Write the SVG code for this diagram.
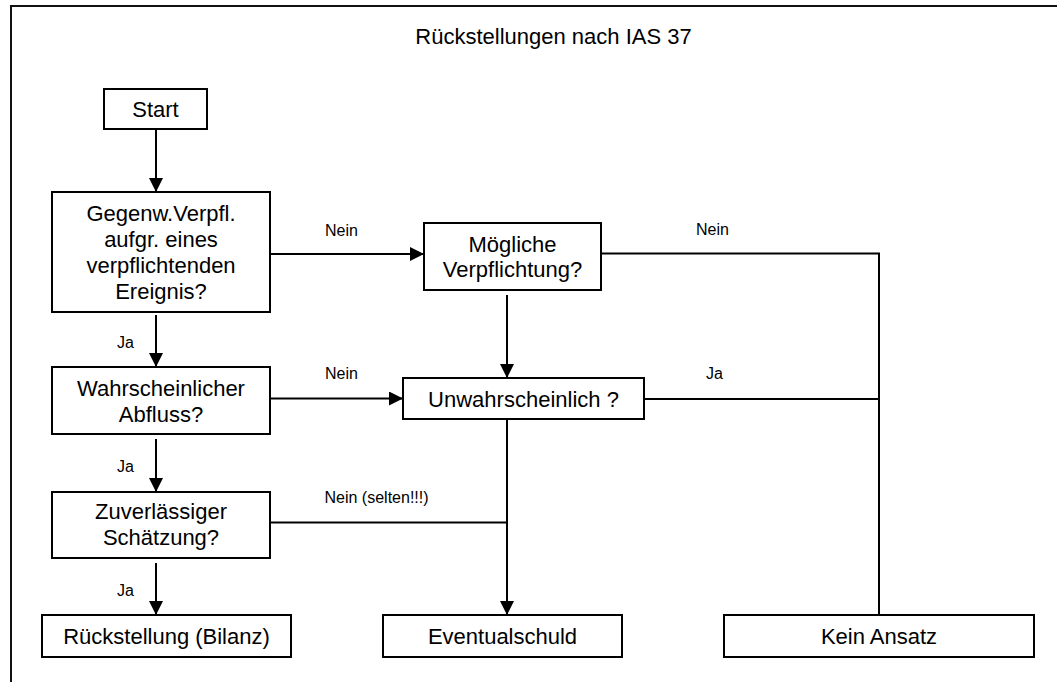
<svg xmlns="http://www.w3.org/2000/svg" width="1057" height="682" viewBox="0 0 1057 682">
<style>
.box{fill:#fff;stroke:#000;stroke-width:2}
.t{font-family:"Liberation Sans",Arial,sans-serif;font-size:22px;fill:#000;text-anchor:middle}
.l{font-family:"Liberation Sans",Arial,sans-serif;font-size:16px;fill:#000}
.c{fill:none;stroke:#000;stroke-width:2}
</style>
<defs>
<marker id="ah" markerUnits="userSpaceOnUse" markerWidth="14" markerHeight="14" refX="14" refY="7" orient="auto">
<path d="M0,0 L14,7 L0,14 z" fill="#000"/>
</marker>
</defs>
<rect width="1057" height="682" fill="#fff"/>
<rect x="11" y="6" width="1100" height="700" fill="none" stroke="#111" stroke-width="2"/>
<text id="title" class="t" x="553.5" y="44">Rückstellungen nach IAS 37</text>

<g id="connectors">
<line class="c" x1="156" y1="129" x2="156" y2="192" marker-end="url(#ah)"/>
<line class="c" x1="270" y1="254" x2="424" y2="254" marker-end="url(#ah)"/>
<polyline class="c" points="601,253.5 879,253.5 879,615"/>
<line class="c" x1="507" y1="295" x2="507" y2="378" marker-end="url(#ah)"/>
<line class="c" x1="156" y1="315" x2="156" y2="367" marker-end="url(#ah)"/>
<line class="c" x1="270" y1="398.5" x2="403" y2="398.5" marker-end="url(#ah)"/>
<line class="c" x1="620" y1="399" x2="879" y2="399"/>
<line class="c" x1="156" y1="439" x2="156" y2="492" marker-end="url(#ah)"/>
<line class="c" x1="507" y1="419" x2="507" y2="615" marker-end="url(#ah)"/>
<line class="c" x1="270" y1="522.5" x2="507" y2="522.5"/>
<line class="c" x1="156" y1="563" x2="156" y2="615" marker-end="url(#ah)"/>
<text class="l" x="325" y="236">Nein</text>
<text class="l" x="696" y="235">Nein</text>
<text class="l" x="117" y="347.5">Ja</text>
<text class="l" x="325" y="379">Nein</text>
<text class="l" x="706" y="379">Ja</text>
<text class="l" x="117" y="471.5">Ja</text>
<text class="l" x="324.5" y="503">Nein (selten!!!)</text>
<text class="l" x="117" y="596">Ja</text>
</g>

<g id="start">
<rect class="box" x="104" y="89" width="103" height="40"/>
<text class="t" x="155.5" y="116.5">Start</text>
</g>
<g id="gegenw">
<rect class="box" x="52" y="192" width="218" height="120"/>
<text class="t" x="161" y="220.5">Gegenw.Verpfl.</text>
<text class="t" x="161" y="246.5">aufgr. eines</text>
<text class="t" x="161" y="272.5">verpflichtenden</text>
<text class="t" x="161" y="298.5">Ereignis?</text>
</g>
<g id="moegliche">
<rect class="box" x="424" y="223" width="177" height="67"/>
<text class="t" x="512.5" y="251.5">Mögliche</text>
<text class="t" x="512.5" y="277">Verpflichtung?</text>
</g>
<g id="wahrscheinlich">
<rect class="box" x="52" y="367" width="218" height="67"/>
<text class="t" x="161" y="396">Wahrscheinlicher</text>
<text class="t" x="161" y="421.5">Abfluss?</text>
</g>
<g id="unwahrscheinlich">
<rect class="box" x="403" y="378" width="241" height="41"/>
<text class="t" x="523.5" y="406.5">Unwahrscheinlich ?</text>
</g>
<g id="zuverlaessig">
<rect class="box" x="52" y="492" width="218" height="66"/>
<text class="t" x="161" y="519">Zuverlässiger</text>
<text class="t" x="161" y="545">Schätzung?</text>
</g>
<g id="rueckstellung">
<rect class="box" x="42" y="615" width="249" height="42"/>
<text class="t" x="166.5" y="643.5">Rückstellung (Bilanz)</text>
</g>
<g id="eventualschuld">
<rect class="box" x="383" y="615" width="239" height="42"/>
<text class="t" x="502.5" y="643.5">Eventualschuld</text>
</g>
<g id="keinansatz">
<rect class="box" x="724" y="615" width="310" height="42"/>
<text class="t" x="879" y="643.5">Kein Ansatz</text>
</g>
</svg>
